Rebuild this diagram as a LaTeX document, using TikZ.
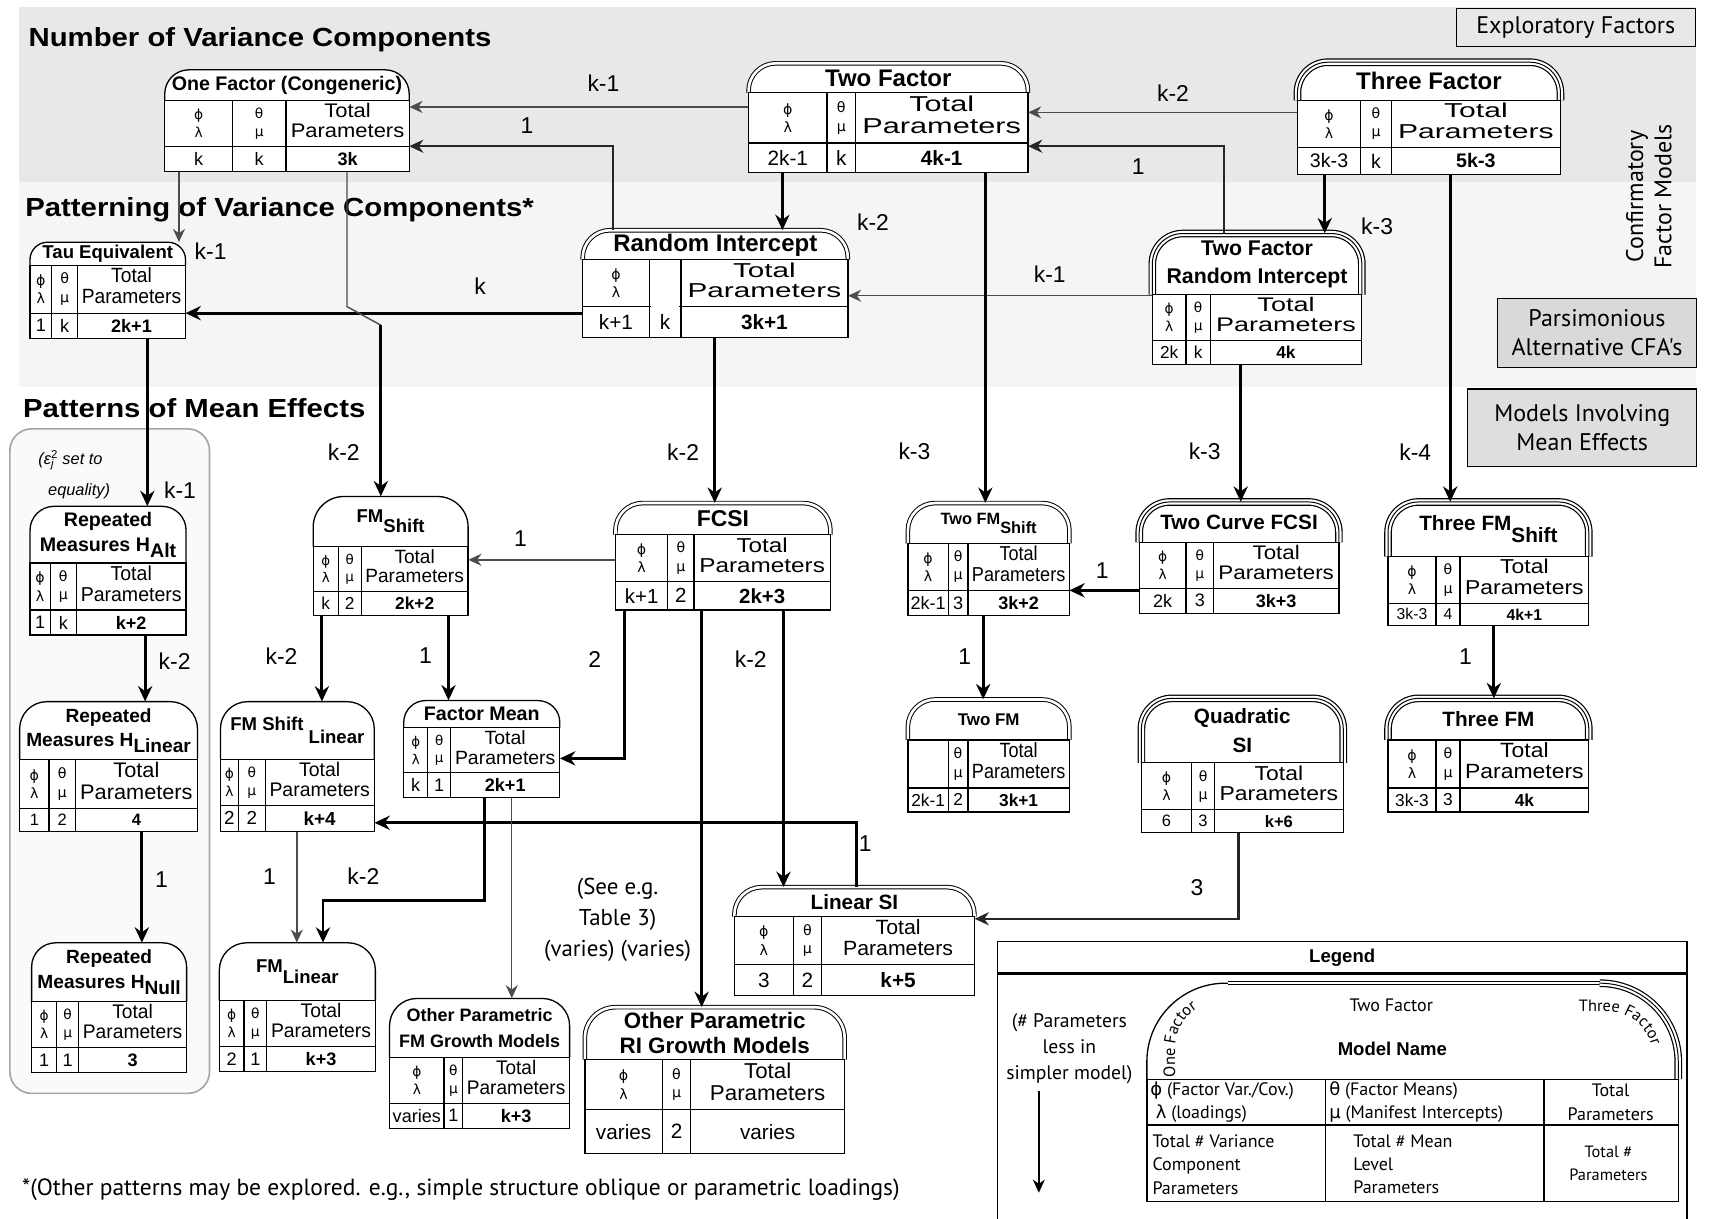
\documentclass[tikz,border=0pt]{standalone}
\usepackage{fontspec}
\usepackage{graphicx}
\setmainfont{Liberation Sans}
\newfontfamily\ptsans{PT Sans}
\newfontfamily\grk{DejaVu Sans}
\newfontfamily\widesans{Liberation Sans}[FakeStretch=1.12]
\usetikzlibrary{arrows.meta,decorations.text}

\newcommand{\dn}[2][.5em]{\raisebox{-#1}{#2}}

\tikzset{
  arch one/.style={line width=1.2pt},
  arch one in/.style={draw=none},
  arch two/.style={double, double distance=2.4pt, line width=0.9pt},
  arch two in/.style={draw=none},
  arch three/.style={double, double distance=4.8pt, line width=1.1pt},
  arch three in/.style={line width=0.9pt},
  cell/.style={line width=1.2pt},
  arr/.style={draw=black!70, line width=1.3pt, -{Stealth[length=12pt,width=11pt]}},
  arrm/.style={draw=black!85, line width=2pt, -{Stealth[length=13pt,width=12pt]}},
  arrb/.style={line width=2.6pt, -{Stealth[length=14pt,width=13pt]}},
  ln/.style={draw=black!70, line width=1.3pt},
  lbl/.style={font=\fontsize{21}{21}\selectfont, inner sep=0},
  section/.style={anchor=west, inner sep=0, font=\widesans\bfseries\fontsize{24}{24}\selectfont},
  side/.style={draw, line width=1pt, align=center, font=\ptsans\fontsize{22}{26}\selectfont},
  note/.style={align=center, inner sep=0, font=\ptsans\fontsize{21}{28}\selectfont},
  legtxt/.style={inner sep=0, font=\ptsans\fontsize{16.5}{21.5}\selectfont},
}

% keys of one model box
\pgfkeys{/mb/.cd,
  id/.store in=\mbid, l/.store in=\mbl, r/.store in=\mbr,
  t/.store in=\mbt, h/.store in=\mbh, m/.store in=\mbm, b/.store in=\mbb,
  ca/.store in=\mbca, cb/.store in=\mbcb,
  kind/.code={\tikzset{mbarch/.style={arch #1}, mbarchin/.style={arch #1 in}}},
  rad/.store in=\mbrad, title/.store in=\mbtitle, ts/.store in=\mbts, tls/.store in=\mbtls,
  va/.store in=\mbva, vb/.store in=\mbvb, vc/.store in=\mbvc, vcf/.store in=\mbvcf,
  greek/.store in=\mbgreek, tw/.store in=\mbtw}
\def\mbga{ϕ\\λ}
\def\mbgb{θ\\μ}

% rounded header + 2x3 table
\newcommand{\modelbox}[1]{%
  \pgfkeys{/mb/.cd, kind=one, rad=22, ts=16, tls=1.3, vcf=\bfseries, greek={a,b}, tw=0.92, #1}%
  \pgfmathsetmacro\mbxc{(\mbl+\mbr)/2}%
  \pgfmathsetmacro\mbyc{(\mbt+\mbb)/2}%
  \pgfmathsetmacro\mbwd{\mbr-\mbl}%
  \pgfmathsetmacro\mbht{\mbb-\mbt}%
  \pgfmathsetmacro\mbyh{(\mbt+\mbh)/2}%
  \pgfmathsetmacro\mbyo{(\mbh+\mbm)/2}%
  \pgfmathsetmacro\mbyt{(\mbm+\mbb)/2}%
  \pgfmathsetmacro\mbxa{(\mbl+\mbca)/2}%
  \pgfmathsetmacro\mbxb{(\mbca+\mbcb)/2}%
  \pgfmathsetmacro\mbxt{(\mbcb+\mbr)/2}%
  \pgfmathsetmacro\mbtw{\mbtw*(\mbr-\mbcb)}%
  \pgfmathsetmacro\mbth{0.88*(\mbm-\mbh)}%
  \pgfmathsetmacro\mbgs{min(13,0.3*(\mbm-\mbh))}%
  \pgfmathsetmacro\mbgsl{1.3*\mbgs}%
  \pgfmathsetmacro\mbvs{min(19,0.72*(\mbb-\mbm))}%
  \pgfmathsetmacro\mbtsl{\mbtls*\mbts}%
  \fill[white, rounded corners=\mbrad pt] (\mbl,\mbb) -- (\mbl,\mbt) -- (\mbr,\mbt) -- (\mbr,\mbb);
  \draw[mbarch, rounded corners=\mbrad pt] (\mbl,\mbh) -- (\mbl,\mbt) -- (\mbr,\mbt) -- (\mbr,\mbh);
  \draw[mbarchin, rounded corners=\mbrad pt] (\mbl,\mbh) -- (\mbl,\mbt) -- (\mbr,\mbt) -- (\mbr,\mbh);
  \draw[cell] (\mbl,\mbh) rectangle (\mbr,\mbb) (\mbl,\mbm) -- (\mbr,\mbm)
    (\mbca,\mbh) -- (\mbca,\mbb) (\mbcb,\mbh) -- (\mbcb,\mbb);
  \node[inner sep=0, minimum width=\mbwd pt, minimum height=\mbht pt] (\mbid) at (\mbxc,\mbyc) {};
  \coordinate (\mbid-em) at (\mbr,\mbm);
  \coordinate (\mbid-wm) at (\mbl,\mbm);
  \node[font=\bfseries\fontsize{\mbts}{\mbtsl}\selectfont, align=center, inner sep=0] (\mbid-title) at (\mbxc,\mbyh) {\mbtitle};
  \foreach \g in \mbgreek {
    \edef\gx{\csname mbx\g\endcsname}
    \node[font=\grk\fontsize{\mbgs}{\mbgsl}\selectfont, align=center, inner sep=0] (\mbid-\g) at (\gx,\mbyo) {\csname mbg\g\endcsname};
  }
  \node[inner sep=0] (\mbid-tp) at (\mbxt,\mbyo) {\resizebox*{\mbtw pt}{\mbth pt}{\def\arraystretch{.85}\begin{tabular}{@{}c@{}}Total\\Parameters\end{tabular}}};
  \node[font=\fontsize{\mbvs}{\mbvs}\selectfont, inner sep=0] (\mbid-va) at (\mbxa,\mbyt) {\mbva};
  \node[font=\fontsize{\mbvs}{\mbvs}\selectfont, inner sep=0] (\mbid-vb) at (\mbxb,\mbyt) {\mbvb};
  \node[font=\mbvcf\fontsize{\mbvs}{\mbvs}\selectfont, inner sep=0] (\mbid-vc) at (\mbxt,\mbyt) {\mbvc};
}

\begin{document}
\begin{tikzpicture}[x=1pt,y=-1pt]
\useasboundingbox (0,0) rectangle (1568,1117);

% shaded bands and the mean-effects group
\fill[black!9] (17,6) rectangle (1554,167);
\fill[black!4] (17,167) rectangle (1554,355);
\draw[black!35, line width=1.5pt, fill=black!2, rounded corners=20pt] (9,393) rectangle (192,1002);

% section titles
\node[section] (numvc) at (26,36) {Number of Variance Components};
\node[section] (patvc) at (23,192) {Patterning of Variance Components*};
\node[section] (patme) at (21,374) {Patterns of Mean Effects};

% side keys
\node[side, fill=black!9, minimum width=219pt, minimum height=35pt] (expl) at (1444,25.5) {Exploratory Factors};
\node[rotate=90, align=center, font=\ptsans\fontsize{22}{26}\selectfont] (cfm) at (1511,180) {Confirmatory\\Factor Models};
\node[side, fill=black!15, minimum width=183pt, minimum height=63pt] (pars) at (1463.5,305) {Parsimonious\\Alternative CFA's};
\node[side, fill=black!13, minimum width=210pt, minimum height=71pt] (mime) at (1450,392) {Models Involving\\Mean Effects};

% number of variance components
\modelbox{id=onef, l=151, r=375, t=64, h=92, m=134, b=157, ca=213, cb=262,
  title={One Factor (Congeneric)}, ts=18, va=k, vb=k, vc=3k}
\modelbox{id=twof, kind=two, rad=25, l=686, r=942, t=58, h=85, m=131, b=158, ca=758, cb=784,
  title={Two Factor}, ts=22, va=2k-1, vb=k, vc=4k-1}
\modelbox{id=threef, kind=three, rad=28, l=1189, r=1430, t=57, h=92, m=135, b=160, ca=1247, cb=1275,
  title={Three Factor}, ts=22, va=3k-3, vb=k, vc=5k-3}

% patterning of variance components
\modelbox{id=tau, rad=16, l=27.5, r=170, t=222, h=243, m=287, b=310, ca=47.5, cb=71,
  title={Tau Equivalent}, ts=17, va=1, vb=k, vc=2k+1}
\modelbox{id=ri, kind=two, rad=25, l=534, r=777, t=211, h=238, m=281, b=309, ca=595, cb=624,
  title={Random Intercept}, ts=22, greek={a}, va=k+1, vb=k, vc=3k+1}
\fill[white] (596.5,279) rectangle (622.5,283);
\modelbox{id=tfri, kind=three, rad=28, l=1056, r=1248, t=214, h=270, m=312, b=334, ca=1087, cb=1109,
  title={Two Factor\\Random Intercept}, ts=19.5, va=2k, vb=k, vc=4k}

% mean effects
\modelbox{id=rmalt, l=27.5, r=170.5, t=464, h=516, m=559, b=582, ca=46, cb=70,
  title={Repeated\\Measures H\dn[.3em]{Alt}}, ts=18, va=1, vb=k, vc=k+2}
\modelbox{id=rmlin, rad=25, l=18, r=181, t=643, h=696, m=741, b=762, ca=45, cb=69,
  title={Repeated\\Measures H\dn[.3em]{Linear}}, ts=17.5, va=1, vb=2, vc=4}
\modelbox{id=rmnull, l=29, r=171, t=864, h=918, m=960, b=983, ca=52, cb=72,
  title={Repeated\\Measures H\dn[.3em]{Null}}, ts=17.5, va=1, vb=1, vc=3}
\modelbox{id=fmshift, rad=28, l=287, r=429, t=455, h=501, m=542, b=564, ca=310, cb=331,
  title={FM\dn[.55em]{Shift}}, ts=17, va=k, vb=2, vc=2k+2}
\modelbox{id=fcsi, kind=two, rad=25, l=564, r=761, t=461, h=490, m=533, b=559, ca=612, cb=636,
  title={FCSI}, ts=21, va=k+1, vb=2, vc=2k+3}
\modelbox{id=twofms, kind=two, rad=25, l=832, r=980, t=461, h=498, m=541, b=564, ca=869, cb=887,
  title={Two FM\dn[.55em]{Shift}}, ts=15, va=2k-1, vb=3, vc=3k+2}
\modelbox{id=twofm, kind=two, rad=25, l=832, r=980, t=641, h=678, m=722, b=744, ca=869, cb=887,
  title={Two FM}, ts=15.5, greek={b}, va=2k-1, vb=2, vc=3k+1}
\modelbox{id=tcfcsi, kind=three, rad=28, l=1044, r=1227, t=460, h=497, m=539, b=562, ca=1087, cb=1112,
  title={Two Curve FCSI}, ts=19, va=2k, vb=3, vc=3k+3}
\modelbox{id=threefms, kind=three, rad=28, l=1272, r=1456, t=460, h=510, m=553, b=573, ca=1316, cb=1338,
  title={Three FM\dn[.55em]{Shift}}, ts=19, va=3k-3, vb=4, vc=4k+1}
\modelbox{id=threefm, kind=three, rad=28, l=1272, r=1456, t=640, h=678, m=722, b=744, ca=1316, cb=1338,
  title={Three FM}, ts=19, va=3k-3, vb=3, vc=4k}
\modelbox{id=quadsi, kind=three, rad=28, l=1046, r=1231, t=640, h=699, m=742, b=763, ca=1092, cb=1113,
  title={Quadratic\\SI}, ts=19, tls=1.37, va=6, vb=3, vc=k+6}
\modelbox{id=fmean, rad=20, l=370, r=513, t=642, h=667, m=708, b=731, ca=392, cb=413,
  title={Factor Mean}, ts=18, va=k, vb=1, vc=2k+1}
\modelbox{id=fmsl, rad=25, l=202, r=343, t=643, h=696, m=738, b=762, ca=218.5, cb=243,
  title={FM Shift \dn[.7em]{Linear}}, ts=17, va=2, vb=2, vc=k+4}
\modelbox{id=fmlin, rad=25, l=201, r=344, t=864, h=917, m=959, b=982, ca=223.6, cb=244.4,
  title={FM\dn[.55em]{Linear}}, ts=17, va=2, vb=1, vc=k+3}
\modelbox{id=opfm, rad=25, l=357, r=522, t=915, h=969, m=1011, b=1034, ca=407, cb=424,
  title={Other Parametric\\FM Growth Models}, ts=16.5, tls=1.45, va=varies, vb=1, vc=k+3}
\modelbox{id=opri, kind=two, rad=28, l=536, r=774, t=923, h=971, m=1017, b=1057, ca=607, cb=633,
  title={Other Parametric\\RI Growth Models}, ts=20.5, tls=1.12, tw=0.75, va=varies, vb=2, vc=varies, vcf=\mdseries}
\modelbox{id=linsi, kind=two, rad=25, l=673, r=893, t=813, h=840, m=884, b=912, ca=727, cb=753,
  title={Linear SI}, ts=19, tw=0.72, va=3, vb=2, vc=k+5}

% connectors, top rows
\draw[arr] (twof.west |- 0,98) -- (onef.east |- 0,98);
\draw[arrm] (ri.north -| 562,0) |- (onef-em);
\draw[arrb] (twof.south -| 717,0) -- (ri.north -| 717,0);
\draw[arr] (threef.west |- 0,103) -- (twof.east |- 0,103);
\draw[arrm] (tfri.north -| 1122,0) |- (twof.east |- 0,134);
\draw[arrb] (threef.south -| 1214,0) -- (tfri.north -| 1214,0);
\draw[arr] (onef.south -| 164,0) -- (tau.north -| 164,0);
\draw[arrb] (ri.west |- tau-em) -- (tau-em);
\draw[ln] (onef.south -| 318,0) -- (318,281) -- (349,298) coordinate (jog);
\draw[arrb] (jog) -- (fmshift.north -| jog);
\draw[arr] (tfri.west |- 0,271) -- (ri.east |- 0,271);

% connectors, down to the mean models
\draw[arrb] (tau.south -| 135,0) -- (rmalt.north -| 135,0);
\draw[arrb] (twof.south -| 903,0) -- (twofms.north -| 903,0);
\draw[arrb] (tfri.south -| 1137,0) -- (tcfcsi.north -| 1137,0);
\draw[arrb] (threef.south -| 1329,0) -- (threefms.north -| 1329,0);
\draw[arrb] (ri.south -| 655,0) -- (fcsi.north -| 655,0);
\draw[arr] (fcsi.west |- 0,513) -- (fmshift.east |- 0,513);
\draw[arrb] (tcfcsi.west |- twofms-em) -- (twofms-em);
\draw[arrb] (twofms.south -| 901,0) -- (twofm.north -| 901,0);
\draw[arrb] (threefms.south -| 1369,0) -- (threefm.north -| 1369,0);
\draw[arrb] (rmalt.south -| 133,0) -- (rmlin.north -| 133,0);
\draw[arrb] (rmlin.south -| 130,0) -- (rmnull.north -| 130,0);
\draw[arrb] (fmshift.south -| 295,0) -- (fmsl.north -| 295,0);
\draw[arrb] (fmshift.south -| 411,0) -- (fmean.north -| 411,0);
\draw[arrb] (fcsi.south -| 572,0) |- (fmean.east |- 0,695);
\draw[arrb] (fcsi.south -| 643,0) -- (opri.north -| 643,0);
\draw[arrb] (fcsi.south -| 718,0) -- (linsi.north -| 718,0);
\draw[arrb] (linsi.north -| 785,0) |- (fmsl.east |- 0,754);
\draw[arrb] (fmean.south -| 444,0) |- (296,825) coordinate (bend) -- (fmlin.north -| bend);
\draw[arr] (fmsl.south -| 272,0) -- (fmlin.north -| 272,0);
\draw[arr] (fmean.south -| 469,0) -- (opfm.north -| 469,0);
\draw[arrm] (quadsi.south -| 1135,0) |- (linsi.east |- 0,842);

% connector labels
\node[lbl] (l-twof-onef) at (553,76) {k-1};
\node[lbl] (l-ri-onef) at (483,115) {1};
\node[lbl] (l-twof-ri) at (800,204) {k-2};
\node[lbl] (l-threef-twof) at (1075,85) {k-2};
\node[lbl] (l-tfri-twof) at (1043,153) {1};
\node[lbl] (l-threef-tfri) at (1262,207) {k-3};
\node[lbl] (l-onef-tau) at (193,230) {k-1};
\node[lbl] (l-ri-tau) at (440,262) {k};
\node[lbl] (l-onef-fms) at (315,414) {k-2};
\node[lbl] (l-tau-rm) at (165,449) {k-1};
\node[lbl] (l-twof-tfms) at (838,414) {k-3};
\node[lbl] (l-tfri-ri) at (962,251) {k-1};
\node[lbl] (l-tfri-tc) at (1104,414) {k-3};
\node[lbl] (l-threef-fms) at (1297,414) {k-4};
\node[lbl] (l-ri-fcsi) at (626,414) {k-2};
\node[lbl] (l-fcsi-fms) at (477,494) {1};
\node[lbl] (l-tc-tfms) at (1010,523) {1};
\node[lbl] (l-tfms-tfm) at (884,602) {1};
\node[lbl] (l-thfms-thfm) at (1343,602) {1};
\node[lbl] (l-rma-rml) at (160,606) {k-2};
\node[lbl] (l-rml-rmn) at (148,806) {1};
\node[lbl] (l-fms-fmsl) at (258,601) {k-2};
\node[lbl] (l-fms-fmean) at (390,601) {1};
\node[lbl] (l-fcsi-fmean) at (545,604) {2};
\node[lbl] (l-fcsi-linsi) at (688,604) {k-2};
\node[lbl] (l-linsi-fmsl) at (793,773) {1};
\node[lbl] (l-fmean-fmlin) at (333,803) {k-2};
\node[lbl] (l-fmsl-fmlin) at (247,803) {1};
\node[lbl] (l-quad-linsi) at (1097,813) {3};

% notes
\node[font=\itshape\fontsize{15}{28}\selectfont, align=left, inner sep=0] (epsnote) at (68,435)
  {(ε\rlap{\textsubscript{j}}\textsuperscript{\upshape 2} set to\\\hspace*{.6em}equality)};
\node[note] (seetab) at (566,843) {(See e.g.\\Table 3)\\(varies) (varies)};
\node[anchor=west, inner sep=0, font=\ptsans\fontsize{21.5}{21.5}\selectfont] (foot) at (20,1090)
  {*(Other patterns may be explored. e.g., simple structure oblique or parametric loadings)};

% legend
\draw[line width=1.4pt] (914,863) rectangle (1546,1130);
\draw[line width=3pt] (914,892) -- (1546,892);
\node[font=\bfseries\fontsize{17}{17}\selectfont] (leg) at (1230,878) {Legend};
\node[legtxt, align=center, font=\ptsans\fontsize{18}{23.5}\selectfont] (legnote) at (980,961) {(\# Parameters\\less in\\simpler model)};
\coordinate (lega) at (952,1000);
\coordinate (legb) at (952,1093);
\draw[arr, draw=black] (lega) -- (legb);
\draw[arch one, rounded corners=72pt] (1051,989) -- (1051,901) -- (1538,901) -- (1538,989);
\draw[arch two] (1125,901) -- (1466,901);
\draw[arch three, rounded corners=72pt] (1466,901) -- (1538,901) -- (1538,989);
\draw[arch three in, rounded corners=72pt] (1466,901) -- (1538,901) -- (1538,989);
\draw[cell] (1051,989) rectangle (1538,1101) (1051,1031) -- (1538,1031)
  (1215,989) -- (1215,1101) (1415,989) -- (1415,1101);
\path[decorate, decoration={text along path, text align=left,
  text={|\ptsans\fontsize{15}{15}\selectfont|One Factor}}, rounded corners=42pt]
  (1077,987) -- (1077,918) -- (1160,918);
\path[decorate, decoration={text along path, text align=left,
  text={|\ptsans\fontsize{15}{15}\selectfont|Three Factor}}, rounded corners=42pt]
  (1447,927) -- (1515,927) -- (1515,1000);
\node[legtxt] (leg2f) at (1275,921) {Two Factor};
\node[font=\bfseries\fontsize{17}{17}\selectfont] (legname) at (1276,961) {Model Name};
\node[legtxt, anchor=west, align=left] (lg-a1) at (1054,1010) {{\grk ϕ} (Factor Var./Cov.)\\\hspace*{5pt}{\grk λ} (loadings)};
\node[legtxt, anchor=west, align=left] (lg-b1) at (1218,1010) {{\grk θ} (Factor Means)\\{\grk μ} (Manifest Intercepts)};
\node[legtxt, align=center] (lg-c1) at (1476,1010) {Total\\Parameters};
\node[legtxt, anchor=west, align=left] (lg-a2) at (1056,1067) {Total \# Variance\\Component\\Parameters};
\node[legtxt, anchor=west, align=left] (lg-b2) at (1240,1067) {Total \# Mean\\Level\\Parameters};
\node[legtxt, align=center, font=\ptsans\fontsize{15}{21}\selectfont] (lg-c2) at (1474,1066) {Total \#\\Parameters};
\end{tikzpicture}
\end{document}
